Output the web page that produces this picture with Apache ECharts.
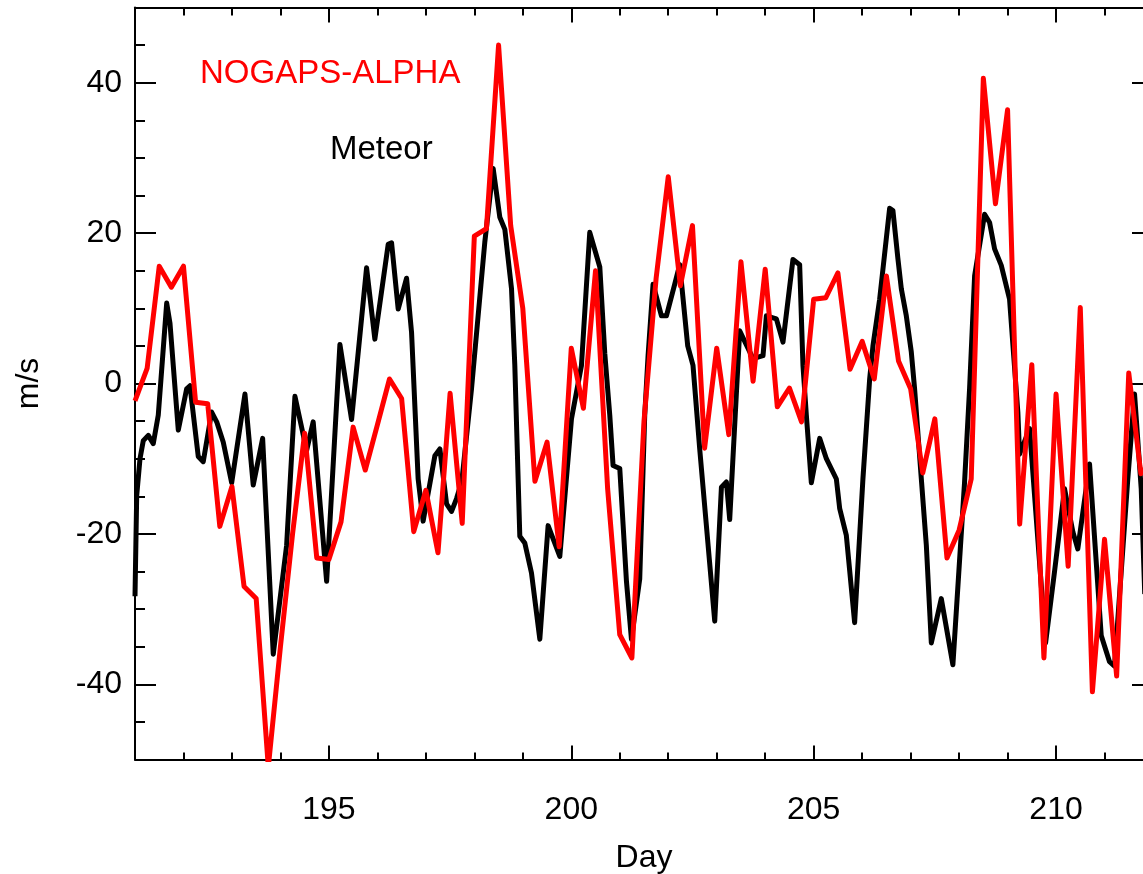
<!DOCTYPE html>
<html>
<head>
<meta charset="utf-8">
<script src="https://cdn.jsdelivr.net/npm/echarts@6/dist/echarts.min.js"></script>
<style>
html,body{margin:0;padding:0;background:#fff;}
#chart{width:1143px;height:874px;}
</style>
</head>
<body>
<div id="chart"></div>
<script>
// ---- data ----
const xMajorTicks = [195, 200, 205, 210];
const xMinorTicks = [191,192,193,194,195,196,197,198,199,200,201,202,203,204,205,206,207,208,209,210,211,212];
const yMajorTicks = [-40, -20, 0, 20, 40];
const yMinorTicks = [-50,-45,-40,-35,-30,-25,-20,-15,-10,-5,0,5,10,15,20,25,30,35,40,45,50];

// NOGAPS-ALPHA: 6-hourly values starting at day 191
const nogapsStartDay = 191;
const nogapsStepDay = 0.25;
const nogapsValues = [
  -2.3, 2.0, 15.6, 12.8, 15.6, -2.5, -2.7, -19.0, -13.7, -27.0,
  -28.6, -51.0, -35.0, -20.0, -6.6, -23.2, -23.4, -18.4, -5.8, -11.5,
  -5.5, 0.6, -2.0, -19.7, -14.2, -22.5, -1.3, -18.6, 19.6, 20.6,
  45.0, 21.0, 10.0, -13.0, -7.8, -21.7, 4.7, -3.3, 15.0, -14.0,
  -33.4, -36.5, -5.0, 14.0, 27.5, 13.0, 21.0, -8.6, 4.7, -6.8,
  16.2, 0.3, 15.2, -3.1, -0.6, -5.1, 11.2, 11.4, 14.7, 1.9,
  5.6, 0.6, 14.3, 3.0, -0.7, -11.9, -4.7, -23.2, -19.5, -12.7,
  40.6, 23.9, 36.4, -18.7, 2.5, -36.5, -1.4, -24.3, 10.1, -41.0,
  -20.7, -38.9, 1.4, -12.0, -10.0
];

// Meteor: (day, value) pairs
const meteorDays = [
  191.000,191.035,191.103,191.171,191.274,191.377,191.480,191.654,191.722,191.893,
  192.066,192.134,192.305,192.408,192.581,192.685,192.821,192.994,193.268,193.439,
  193.633,193.852,194.128,194.299,194.540,194.676,194.953,195.227,195.468,195.777,
  195.948,196.223,196.293,196.429,196.602,196.705,196.841,196.944,197.186,197.289,
  197.427,197.530,197.633,197.742,197.942,198.216,198.388,198.526,198.629,198.767,
  198.835,198.938,199.041,199.179,199.351,199.522,199.763,200.004,200.210,200.381,
  200.588,200.691,200.794,200.862,201.000,201.138,201.241,201.412,201.515,201.584,
  201.687,201.860,201.963,202.134,202.237,202.402,202.511,202.649,202.959,203.097,
  203.200,203.268,203.474,203.748,203.955,204.025,204.231,204.367,204.573,204.711,
  204.779,204.849,204.952,205.124,205.262,205.468,205.536,205.674,205.845,206.016,
  206.155,206.223,206.361,206.567,206.635,206.738,206.808,206.911,207.014,207.082,
  207.221,207.324,207.427,207.633,207.872,208.113,208.216,208.320,208.526,208.629,
  208.732,208.870,209.041,209.212,209.247,209.454,209.784,209.969,210.175,210.346,
  210.449,210.691,210.932,211.103,211.206,211.480,211.619,211.757,211.830
];
const meteorValues = [
  -28.3,-14.9,-10.0,-7.6,-6.9,-8.0,-4.2,10.7,8.0,-6.2,
  -0.7,-0.3,-9.7,-10.4,-3.8,-5.1,-7.8,-13.2,-1.4,-13.5,
  -7.3,-36.0,-21.5,-1.7,-8.9,-5.1,-26.3,5.2,-4.8,15.4,
  5.9,18.5,18.7,9.9,14.0,6.8,-12.7,-18.3,-9.6,-8.7,
  -16.0,-17.0,-15.3,-13.0,-0.7,18.8,28.6,22.1,20.5,12.6,
  2.4,-20.3,-21.2,-25.2,-34.0,-18.9,-23.0,-4.7,2.4,20.1,
  15.5,4.0,-4.2,-10.9,-11.3,-26.3,-34.0,-26.0,-4.2,3.7,
  13.2,9.0,9.0,13.2,15.8,5.0,2.4,-8.7,-31.6,-13.8,
  -13.1,-18.1,7.0,3.3,3.7,9.0,8.6,5.5,16.5,15.8,
  2.4,-4.2,-13.2,-7.3,-10.0,-12.7,-16.6,-20.2,-31.8,-12.7,
  0.6,5.0,11.2,23.3,23.0,16.6,12.6,9.0,4.2,-0.7,
  -12.7,-21.5,-34.5,-28.6,-37.4,-13.1,-0.7,14.3,22.5,21.4,
  17.9,15.7,11.2,-3.8,-9.4,-6.0,-34.5,-25.0,-14.0,-19.7,
  -22.0,-10.7,-33.5,-37.0,-37.6,-12.7,-1.4,-14.0,-28.0
];

const nogapsData = nogapsValues.map((v, i) => [nogapsStartDay + i * nogapsStepDay, v]);
const meteorData = meteorDays.map((d, i) => [d, meteorValues[i]]);

const FONT = "'Liberation Sans', Arial, Helvetica, sans-serif";
const chart = echarts.init(document.getElementById('chart'), null, {renderer: 'canvas'});

function xAxisDef(position, ticks, len, showLine, withLabels) {
  return {
    type: 'value', position: position, min: 191, max: 212,
    axisLine: {show: showLine, onZero: false, lineStyle: {color: '#000', width: 2}},
    axisTick: {show: true, inside: true, length: len, customValues: ticks, lineStyle: {color: '#000', width: 2}},
    axisLabel: withLabels ? {show: true, customValues: xMajorTicks, color: '#000', fontFamily: FONT, fontSize: 32, margin: 35} : {show: false},
    splitLine: {show: false},
    name: withLabels ? 'Day' : '',
    nameLocation: 'middle', nameGap: 83,
    nameTextStyle: {color: '#000', fontFamily: FONT, fontSize: 32}
  };
}
function yAxisDef(position, ticks, len, showLine, withLabels) {
  return {
    type: 'value', position: position, min: -50, max: 50,
    axisLine: {show: showLine, onZero: false, lineStyle: {color: '#000', width: 2}},
    axisTick: {show: true, inside: true, length: len, customValues: ticks, lineStyle: {color: '#000', width: 2}},
    axisLabel: withLabels ? {show: true, customValues: yMajorTicks, color: '#000', fontFamily: FONT, fontSize: 32, margin: 13} : {show: false},
    splitLine: {show: false},
    name: withLabels ? 'm/s' : '',
    nameLocation: 'middle', nameGap: 90, nameRotate: 90,
    nameTextStyle: {color: '#000', fontFamily: FONT, fontSize: 32}
  };
}

chart.setOption({
  animation: false,
  backgroundColor: '#fff',
  grid: {left: 135, top: 7.5, width: 1018, height: 752, containLabel: false, outerBoundsMode: 'none'},
  xAxis: [
    xAxisDef('bottom', xMajorTicks, 14, true, true),
    xAxisDef('bottom', xMinorTicks, 7, false, false),
    xAxisDef('top', xMajorTicks, 15, true, false),
    xAxisDef('top', xMinorTicks, 8, false, false)
  ],
  yAxis: [
    yAxisDef('left', yMajorTicks, 21, true, true),
    yAxisDef('left', yMinorTicks, 10, false, false),
    yAxisDef('right', yMajorTicks, 21, true, false),
    yAxisDef('right', yMinorTicks, 10, false, false)
  ],
  graphic: [
    {type: 'text', left: 200, top: 57, style: {text: 'NOGAPS-ALPHA', fill: '#ff0000', font: "33px " + FONT}},
    {type: 'text', left: 330, top: 133, style: {text: 'Meteor', fill: '#000', font: "33px " + FONT}}
  ],
  series: [
    {
      name: 'Meteor', type: 'line', xAxisIndex: 0, yAxisIndex: 0,
      data: meteorData, showSymbol: false, symbol: 'none', clip: true,
      lineStyle: {color: '#000', width: 5, join: 'round'}
    },
    {
      name: 'NOGAPS-ALPHA', type: 'line', xAxisIndex: 0, yAxisIndex: 0,
      data: nogapsData, showSymbol: false, symbol: 'none', clip: true,
      lineStyle: {color: '#ff0000', width: 5, join: 'round'}
    }
  ]
});
</script>
</body>
</html>
